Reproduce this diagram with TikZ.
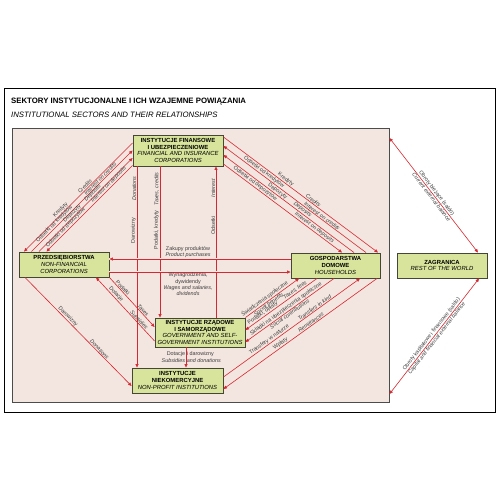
\documentclass[tikz,border=0pt]{standalone}
\usepackage{fontspec}
\setmainfont{Liberation Sans}
\usetikzlibrary{arrows.meta,calc}
\definecolor{bgpink}{RGB}{243,229,223}
\definecolor{boxfill}{RGB}{216,227,155}
\definecolor{boxline}{RGB}{70,70,55}
\definecolor{flowred}{RGB}{214,40,48}
\definecolor{lbltext}{RGB}{60,60,60}
\begin{document}
\begin{tikzpicture}[x=1pt,y=-1pt,
  sector/.style={draw=boxline, fill=boxfill, line width=0.9pt, align=center, inner sep=0pt, font=\fontsize{5.9}{6.8}\selectfont},
  flow/.style={draw=flowred, line width=0.6pt, -{Triangle[length=3.5pt,width=3pt]}},
  twoway/.style={draw=flowred, line width=0.6pt, {Triangle[length=3.5pt,width=3pt]}-{Triangle[length=3.5pt,width=3pt]}},
  lbl/.style={font=\fontsize{5.4}{6.2}\selectfont, text=lbltext, inner sep=0.6pt},
  en/.style={lbl, font=\fontsize{5.4}{6.2}\selectfont\itshape},
  gap/.style={preaction={draw=bgpink, line width=2.4pt, -}},
]
\useasboundingbox (0,0) rectangle (500,501);
\fill[white] (0,0) rectangle (500,501);
\draw[line width=0.9pt] (4,88) rectangle (495,412);
\node[draw=black!70, fill=bgpink, line width=0.5pt, minimum width=377pt, minimum height=274pt, anchor=north west, inner sep=0pt] (panel) at (12,128) {};

\node[anchor=west, inner sep=0pt, font=\fontsize{7.8}{9}\selectfont\bfseries] (title) at (11,102) {SEKTORY INSTYTUCJONALNE I ICH WZAJEMNE POWIĄZANIA};
\node[anchor=west, inner sep=0pt, font=\fontsize{7.8}{9}\selectfont\itshape] (subtitle) at (11,115) {INSTITUTIONAL SECTORS AND THEIR RELATIONSHIPS};

% sectors
\node[sector, minimum width=90pt, minimum height=31pt] (fin) at (178,150.5) {\textbf{INSTYTUCJE FINANSOWE}\\\textbf{I UBEZPIECZENIOWE}\\\textit{FINANCIAL AND INSURANCE}\\\textit{CORPORATIONS}};
\node[sector, minimum width=90pt, minimum height=25pt] (prz) at (64,264.5) {\textbf{PRZEDSIĘBIORSTWA}\\\textit{NON-FINANCIAL}\\\textit{CORPORATIONS}};
\node[sector, minimum width=89pt, minimum height=25pt] (gosp) at (335.5,265.5) {\textbf{GOSPODARSTWA}\\\textbf{DOMOWE}\\\textit{HOUSEHOLDS}};
\node[sector, minimum width=90pt, minimum height=25pt] (zagr) at (442,265.5) {\textbf{ZAGRANICA}\\\textit{REST OF THE WORLD}};
\node[sector, minimum width=90pt, minimum height=29pt] (gov) at (200,332.5) {\textbf{INSTYTUCJE RZĄDOWE}\\\textbf{I SAMORZĄDOWE}\\\textit{GOVERNMENT AND SELF-}\\\textit{GOVERNMENT INSTITUTIONS}};
\node[sector, minimum width=91pt, minimum height=25pt] (npi) at (177.5,380.5) {\textbf{INSTYTUCJE}\\\textbf{NIEKOMERCYJNE}\\\textit{NON-PROFIT INSTITUTIONS}};

% FIN - PRZ
\draw[flow] (fin.west |- 0,143) -- node[lbl,sloped,above,pos=0.64]{Kredyty} node[en,sloped,above,pos=0.42]{Credits} (prz.north -| 24,0);
\draw[flow] (prz.north -| 31.5,0) -- node[lbl,sloped,above,pos=0.25]{Odsetki od kredytów} node[en,sloped,above,pos=0.7]{Interest on credits} (fin.west |- 0,150.5);
\draw[flow] (prz.north -| 39,0) -- node[lbl,sloped,above,pos=0.38]{Depozyty} node[en,sloped,above,pos=0.6]{Deposits} (fin.west |- 0,158);
\draw[flow] (fin.west |- 0,165.5) -- node[lbl,sloped,above,pos=0.75]{Odsetki od depozytów} node[en,sloped,above,pos=0.25]{Interest on deposits} (prz.north -| 46.5,0);

% FIN - GOSP
\draw[flow] (fin.east |- 0,137) -- node[lbl,sloped,above,pos=0.39]{Kredyty} node[en,sloped,above,pos=0.57]{Credits} (gosp.north -| 378,0);
\draw[flow] (gosp.north -| 366,0) -- node[lbl,sloped,above,pos=0.73]{Odsetki od kredytów} node[en,sloped,above,pos=0.32]{Interest on credits} (fin.east |- 0,146);
\draw[flow] (gosp.north -| 354,0) -- node[lbl,sloped,above,pos=0.6]{Depozyty} node[en,sloped,above,pos=0.41]{Deposits} (fin.east |- 0,155);
\draw[flow] (fin.east |- 0,164) -- node[lbl,sloped,above,pos=0.25]{Odsetki od depozytów} node[en,sloped,above,pos=0.75]{Interest on deposits} (gosp.north -| 342,0);

% verticals
\draw[flow] (fin.south -| 137,0) -- node[lbl,rotate=90,anchor=south,pos=0.32]{Darowizny} node[en,rotate=90,anchor=south,pos=0.11]{Donations} (npi.north -| 137,0);
\draw[flow] (fin.south -| 160,0) -- node[lbl,rotate=90,anchor=south,pos=0.42]{Podatki, kredyty} node[en,rotate=90,anchor=south,pos=0.15]{Taxes, credits} (gov.north -| 160,0);
\draw[flow] (gov.north -| 216,0) -- node[lbl,rotate=90,anchor=south,pos=0.61]{Odsetki} node[en,rotate=90,anchor=south,pos=0.855]{Interest} (fin.south -| 216,0);
\draw[flow] (gov.south -| 186,0) -- node[lbl,anchor=east,pos=0.33]{Dotacje} node[lbl,anchor=west,pos=0.33]{i darowizny} node[en,anchor=east,pos=0.67]{Subsidies} node[en,anchor=west,pos=0.67]{and donations} (npi.north -| 186,0);

% horizontals
\draw[flow,gap] (gosp.west |- 0,259) -- node[lbl,above,align=center,pos=0.566]{Zakupy produktów\\\textit{Product purchases}} (prz.east |- 0,259);
\draw[flow,gap] (prz.east |- 0,272) -- node[lbl,below,align=center,pos=0.434]{Wynagrodzenia,\\dywidendy\\\textit{Wages and salaries,}\\\textit{dividends}} (gosp.west |- 0,272);

% PRZ - GOV
\draw[flow] (prz.south east) -- node[lbl,sloped,above,pos=0.25]{Podatki} node[en,sloped,above,pos=0.7]{Taxes} (gov.west |- 0,327);
\draw[flow] (gov.west |- 0,341) -- node[lbl,sloped,above,pos=0.7]{Dotacje} node[en,sloped,above,pos=0.3]{Subsidies} (prz.south -| 96,0);

% PRZ - NPI
\draw[flow] (prz.south -| 25,0) -- node[lbl,sloped,above,pos=0.38]{Darowizny} node[en,sloped,above,pos=0.68]{Donations} (npi.west |- 0,386);

% GOSP - GOV / NPI
\draw[flow] (gov.north east) -- node[lbl,sloped,above,pos=0.4]{Świadczenia społeczne} node[en,sloped,below,pos=0.4]{Social benefits} (gosp.south -| 299,0);
\draw[flow] (gosp.south -| 317,0) -- node[en,sloped,above,pos=0.28]{Taxes, fees} node[lbl,sloped,above,pos=0.73]{Podatki, opłaty} (gov.east |- 0,330);
\draw[flow] (gosp.south -| 334,0) -- node[lbl,sloped,above,pos=0.52]{Składki na ubezpieczenia społeczne} node[en,sloped,below,pos=0.52]{Social contributions} (gov.east |- 0,342);
\draw[flow] (npi.east |- 0,377) -- node[lbl,sloped,above,pos=0.35]{Transfery w naturze} node[en,sloped,above,pos=0.68]{Transfers in kind} (gosp.south -| 360,0);
\draw[flow] (gosp.south -| 377,0) -- node[lbl,sloped,above,pos=0.615]{Wpłaty} node[en,sloped,above,pos=0.42]{Remittances} (npi.east |- 0,389);

% ZAGR
\draw[twoway] (panel.east |- 0,138) -- node[lbl,sloped,above,pos=0.5]{Obroty bieżące (saldo)} node[en,sloped,below,pos=0.5]{Current external balance} (zagr.north -| 478,0);
\draw[twoway] (panel.east |- 0,394) -- node[lbl,sloped,above,pos=0.5]{Obroty kapitałowe i finansowe (saldo)} node[en,sloped,below,pos=0.5]{Capital and financial external balance} (zagr.south -| 479,0);
\end{tikzpicture}
\end{document}
